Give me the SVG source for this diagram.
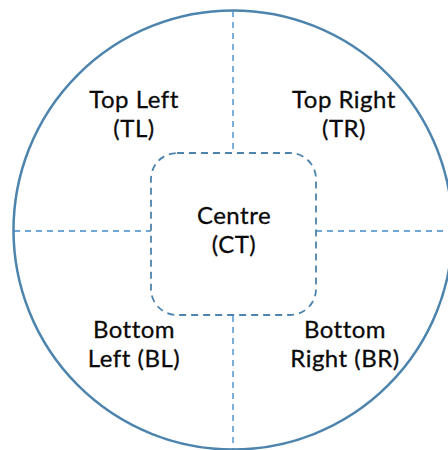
<svg xmlns="http://www.w3.org/2000/svg" width="448" height="450" viewBox="0 0 448 450">
  <style>
    .guide { stroke: #6fa8d8; stroke-width: 1.8; stroke-dasharray: 6 5; fill: none; }
    .ring { stroke: #4d84ad; stroke-width: 2.5; fill: none; }
    .box { stroke: #4d84ad; stroke-width: 1.8; stroke-dasharray: 7 5; fill: none; }
    .lbl { font-family: Lato, "Open Sans", "Liberation Sans", Arial, sans-serif; font-size: 24px; letter-spacing: 0.5px; fill: #0a0a0a; stroke: #0a0a0a; stroke-width: 0.3; text-anchor: middle; }
  </style>
  <rect width="448" height="450" fill="#ffffff"/>
  <g id="connectors">
    <line class="guide" x1="233" y1="11" x2="233" y2="153"/>
    <line class="guide" x1="233" y1="316" x2="233" y2="450"/>
    <line class="guide" x1="14" y1="231" x2="151" y2="231"/>
    <line class="guide" x1="316" y1="231" x2="448" y2="231"/>
  </g>
  <g id="boundary">
    <circle class="ring" cx="233" cy="230" r="219.5"/>
  </g>
  <g id="centre">
    <rect class="box" x="151" y="153" width="165" height="162" rx="26" ry="26"/>
    <text class="lbl" x="234" y="224">Centre</text>
    <text class="lbl" x="234" y="253">(CT)</text>
  </g>
  <g id="top-left">
    <text class="lbl" x="134" y="108">Top Left</text>
    <text class="lbl" x="134" y="137">(TL)</text>
  </g>
  <g id="top-right">
    <text class="lbl" x="344" y="108">Top Right</text>
    <text class="lbl" x="344" y="137">(TR)</text>
  </g>
  <g id="bottom-left">
    <text class="lbl" x="134" y="338">Bottom</text>
    <text class="lbl" x="134" y="367">Left (BL)</text>
  </g>
  <g id="bottom-right">
    <text class="lbl" x="345" y="338">Bottom</text>
    <text class="lbl" x="345" y="367">Right (BR)</text>
  </g>
</svg>
